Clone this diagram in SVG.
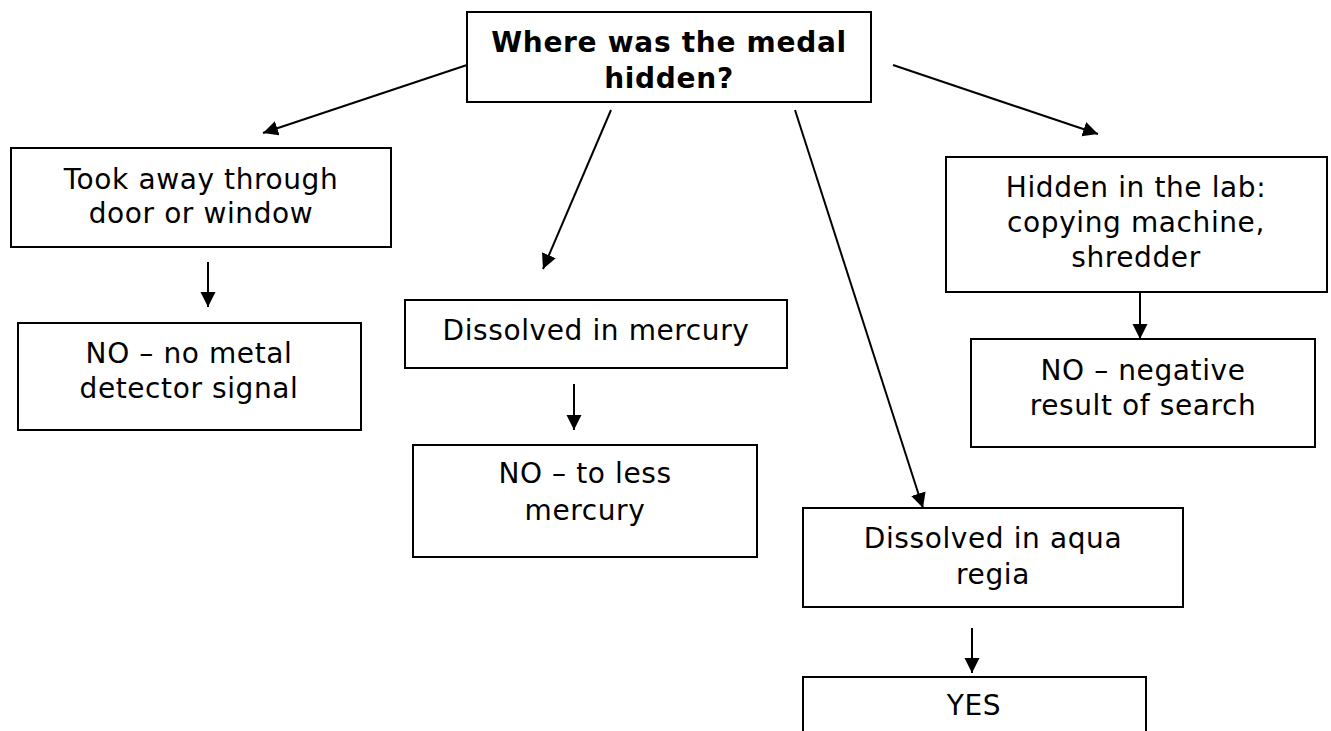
<svg xmlns="http://www.w3.org/2000/svg" width="1331" height="731" viewBox="0 0 1331 731">
<style>
.box{fill:#fff;stroke:#000;stroke-width:2}
.t{font-family:"DejaVu Sans","Liberation Sans",sans-serif;font-size:28px;letter-spacing:0.6px;text-anchor:middle;fill:#000}
.b{font-weight:bold;letter-spacing:0.7px}
.c{stroke:#000;stroke-width:2;fill:none;marker-end:url(#ah)}
</style>
<defs>
<marker id="ah" markerUnits="userSpaceOnUse" markerWidth="16" markerHeight="16" refX="15" refY="7.5" orient="auto">
<path d="M0,0 L15,7.5 L0,15 z" fill="#000"/>
</marker>
</defs>
<rect width="1331" height="731" fill="#fff"/>
<g id="connectors">
<line class="c" x1="467" y1="65" x2="263" y2="133"/>
<line class="c" x1="611" y1="110" x2="543" y2="269"/>
<line class="c" x1="795" y1="110" x2="923" y2="508"/>
<line class="c" x1="893" y1="65" x2="1098" y2="134"/>
<line class="c" x1="208" y1="262" x2="208" y2="307"/>
<line class="c" x1="574" y1="384" x2="574" y2="430"/>
<line class="c" x1="972" y1="628" x2="972" y2="673"/>
<line class="c" x1="1140" y1="292" x2="1140" y2="339"/>
</g>
<g id="title">
<rect class="box" x="467" y="12" width="404" height="90"/>
<text class="t b" x="669" y="52">Where was the medal</text>
<text class="t b" x="669" y="88">hidden?</text>
</g>
<g id="took-away">
<rect class="box" x="11" y="148" width="380" height="99"/>
<text class="t" x="201" y="189">Took away through</text>
<text class="t" x="201" y="223">door or window</text>
</g>
<g id="no-metal">
<rect class="box" x="18" y="323" width="343" height="107"/>
<text class="t" x="189" y="363">NO – no metal</text>
<text class="t" x="189" y="398">detector signal</text>
</g>
<g id="mercury">
<rect class="box" x="405" y="300" width="382" height="68"/>
<text class="t" x="596" y="340">Dissolved in mercury</text>
</g>
<g id="no-mercury">
<rect class="box" x="413" y="445" width="344" height="112"/>
<text class="t" x="585" y="483">NO – to less</text>
<text class="t" x="585" y="520">mercury</text>
</g>
<g id="aqua-regia">
<rect class="box" x="803" y="508" width="380" height="99"/>
<text class="t" x="993" y="548">Dissolved in aqua</text>
<text class="t" x="993" y="584">regia</text>
</g>
<g id="yes">
<rect class="box" x="803" y="677" width="343" height="70"/>
<text class="t" x="974" y="715">YES</text>
</g>
<g id="lab">
<rect class="box" x="946" y="157" width="381" height="135"/>
<text class="t" x="1136" y="197">Hidden in the lab:</text>
<text class="t" x="1136" y="232">copying machine,</text>
<text class="t" x="1136" y="267">shredder</text>
</g>
<g id="no-search">
<rect class="box" x="971" y="339" width="344" height="108"/>
<text class="t" x="1143" y="380">NO – negative</text>
<text class="t" x="1143" y="415">result of search</text>
</g>
</svg>
